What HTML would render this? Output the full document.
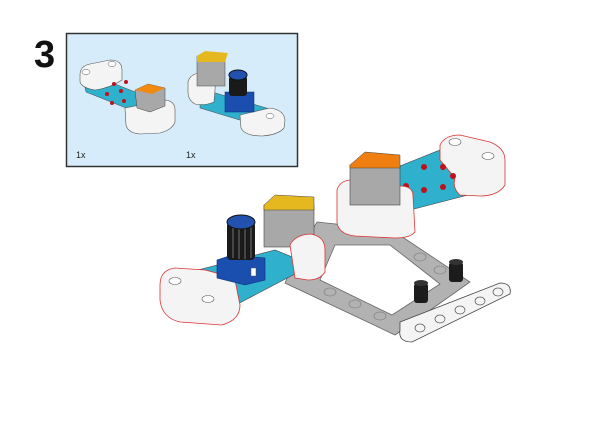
<!DOCTYPE html>
<html><head><meta charset="utf-8"><style>
html,body{margin:0;padding:0;background:#fff;width:600px;height:424px;overflow:hidden}
svg{display:block}
text{font-family:"Liberation Sans",sans-serif}
</style></head><body>
<svg width="600" height="424" viewBox="0 0 600 424">
<text x="34" y="67" font-size="38" font-weight="bold" fill="#111">3</text>
<rect x="66.5" y="33.5" width="231" height="133" fill="#d6ecfa" stroke="#333" stroke-width="1.5"/>
<text x="76" y="158" font-size="9" fill="#222">1x</text>
<text x="186" y="158" font-size="9" fill="#222">1x</text>
<!-- small module 1 -->
<polygon points="84,83 100,78 150,98 152,110 136,112 86,92" fill="#2fb0cc" stroke="#444" stroke-width="0.5"/>
<path d="M80,75 Q80,66 90,64 L110,60 Q122,60 122,70 L122,80 Q110,88 95,90 Q82,88 80,82 Z" fill="#f4f4f4" stroke="#555" stroke-width="0.6"/>
<ellipse cx="86" cy="72" rx="4" ry="2.5" fill="#fff" stroke="#555" stroke-width="0.5"/>
<ellipse cx="112" cy="64" rx="4" ry="2.5" fill="#fff" stroke="#555" stroke-width="0.5"/>
<path d="M125,108 L165,100 Q175,101 175,110 L175,122 Q172,130 160,133 L140,134 Q128,133 126,125 Z" fill="#f4f4f4" stroke="#555" stroke-width="0.6"/>
<g fill="#c0101a"><circle cx="114" cy="84" r="2"/><circle cx="126" cy="82" r="2"/><circle cx="107" cy="94" r="2"/><circle cx="121" cy="91" r="2"/><circle cx="112" cy="103" r="2"/><circle cx="124" cy="101" r="2"/></g>
<polygon points="135,90 148,84 165,88 165,106 150,112 137,108" fill="#a8a8a8" stroke="#444" stroke-width="0.5"/>
<polygon points="135,90 148,84 165,88 152,94" fill="#f08a10"/>
<!-- small module 2 -->
<polygon points="200,98 212,92 280,112 280,125 266,128 200,108" fill="#2fb0cc" stroke="#444" stroke-width="0.5"/>
<path d="M188,82 Q190,74 200,73 L212,75 Q216,80 215,90 L214,102 Q205,106 195,104 Q188,100 188,92 Z" fill="#f4f4f4" stroke="#555" stroke-width="0.6"/>
<rect x="197" y="56" width="28" height="30" fill="#a8a8a8" stroke="#444" stroke-width="0.5"/>
<polygon points="197,56 205,51 228,53 225,62 197,62" fill="#e6b820"/>
<path d="M240,115 L270,108 Q284,110 285,120 L284,128 Q278,135 262,136 Q245,136 241,128 Z" fill="#f4f4f4" stroke="#555" stroke-width="0.6"/>
<ellipse cx="270" cy="116" rx="4" ry="2.5" fill="#fff" stroke="#555" stroke-width="0.5"/>
<rect x="225" y="92" width="29" height="20" fill="#1a4fb0" stroke="#0b2a70" stroke-width="0.5"/>
<rect x="229" y="76" width="18" height="20" rx="3" fill="#1a1a1a"/>
<ellipse cx="238" cy="75" rx="9" ry="5" fill="#2251b0" stroke="#111"/>
<!-- main: frame -->
<path fill-rule="evenodd" d="M317,222 L392,230 L470,282 L395,335 L285,283 L300,250 Z M335,245 L390,245 L440,284 L392,315 L320,280 Z" fill="#b2b2b2" stroke="#666" stroke-width="0.8"/>
<g fill="none" stroke="#888" stroke-width="0.8"><ellipse cx="330" cy="292" rx="6" ry="4"/><ellipse cx="355" cy="304" rx="6" ry="4"/><ellipse cx="380" cy="316" rx="6" ry="4"/><ellipse cx="420" cy="257" rx="6" ry="4"/><ellipse cx="440" cy="270" rx="6" ry="4"/></g>
<!-- white beam -->
<path d="M400,322 L500,283 Q512,283 510,294 L412,342 Q398,342 400,330 Z" fill="#f4f4f4" stroke="#444" stroke-width="0.8"/>
<g fill="none" stroke="#555" stroke-width="0.7"><ellipse cx="420" cy="328" rx="5" ry="4"/><ellipse cx="440" cy="319" rx="5" ry="4"/><ellipse cx="460" cy="310" rx="5" ry="4"/><ellipse cx="480" cy="301" rx="5" ry="4"/><ellipse cx="498" cy="292" rx="5" ry="4"/></g>
<!-- pins -->
<rect x="414" y="283" width="14" height="20" rx="3" fill="#1c1c1c"/><ellipse cx="421" cy="283" rx="7" ry="3" fill="#333"/>
<rect x="449" y="262" width="14" height="20" rx="3" fill="#1c1c1c"/><ellipse cx="456" cy="262" rx="7" ry="3" fill="#333"/>
<!-- right module -->
<polygon points="390,170 440,150 500,175 495,188 410,210" fill="#2fb0cc" stroke="#444" stroke-width="0.6"/>
<path d="M440,145 Q445,135 460,135 L490,142 Q505,148 505,160 L505,185 Q498,196 480,196 L460,195 Q452,188 455,178 L440,160 Z" fill="#f4f4f4" stroke="#d33" stroke-width="0.8"/>
<ellipse cx="455" cy="142" rx="6" ry="3.5" fill="#fff" stroke="#555" stroke-width="0.6"/>
<ellipse cx="488" cy="156" rx="6" ry="3.5" fill="#fff" stroke="#555" stroke-width="0.6"/>
<g fill="#c0101a"><circle cx="424" cy="167" r="3"/><circle cx="443" cy="167" r="3"/><circle cx="453" cy="176" r="3"/><circle cx="406" cy="186" r="3"/><circle cx="424" cy="190" r="3"/><circle cx="443" cy="187" r="3"/></g>
<path d="M337,190 Q340,180 352,180 L400,186 Q413,186 413,196 L415,232 Q410,238 395,238 L355,236 Q338,234 337,222 Z" fill="#f4f4f4" stroke="#d33" stroke-width="0.8"/>
<rect x="350" y="165" width="50" height="40" fill="#a8a8a8" stroke="#444" stroke-width="0.6"/>
<polygon points="350,165 365,152 400,155 400,168 350,168" fill="#ee7f10" stroke="#444" stroke-width="0.5"/>
<!-- left module -->
<polygon points="190,272 275,250 312,265 230,308" fill="#2fb0cc" stroke="#444" stroke-width="0.6"/>
<path d="M160,285 Q160,270 175,268 L205,270 Q225,275 235,280 L240,305 Q240,320 222,325 L180,322 Q162,318 160,300 Z" fill="#f4f4f4" stroke="#d33" stroke-width="0.8"/>
<ellipse cx="175" cy="281" rx="6" ry="3.5" fill="#fff" stroke="#555" stroke-width="0.6"/>
<ellipse cx="208" cy="299" rx="6" ry="3.5" fill="#fff" stroke="#555" stroke-width="0.6"/>
<rect x="264" y="205" width="50" height="42" fill="#a8a8a8" stroke="#444" stroke-width="0.6"/>
<polygon points="264,205 275,195 314,197 314,210 264,210" fill="#e6b820" stroke="#444" stroke-width="0.5"/>
<path d="M290,245 Q295,235 310,234 Q325,236 325,250 L325,272 Q320,280 308,280 L295,278 Z" fill="#f4f4f4" stroke="#d33" stroke-width="0.8"/>
<polygon points="217,260 232,255 265,258 265,280 245,285 217,278" fill="#1a4fb0" stroke="#0b2a70" stroke-width="0.6"/>
<rect x="227" y="222" width="28" height="38" rx="4" fill="#1a1a1a"/>
<g stroke="#888" stroke-width="0.8"><line x1="233" y1="226" x2="233" y2="258"/><line x1="239" y1="228" x2="239" y2="259"/><line x1="245" y1="228" x2="245" y2="259"/><line x1="251" y1="226" x2="251" y2="258"/></g>
<ellipse cx="241" cy="222" rx="14" ry="7" fill="#2251b0" stroke="#111"/>
<rect x="251" y="268" width="5" height="8" fill="#fff" stroke="#555" stroke-width="0.5"/>
</svg>
</body></html>
